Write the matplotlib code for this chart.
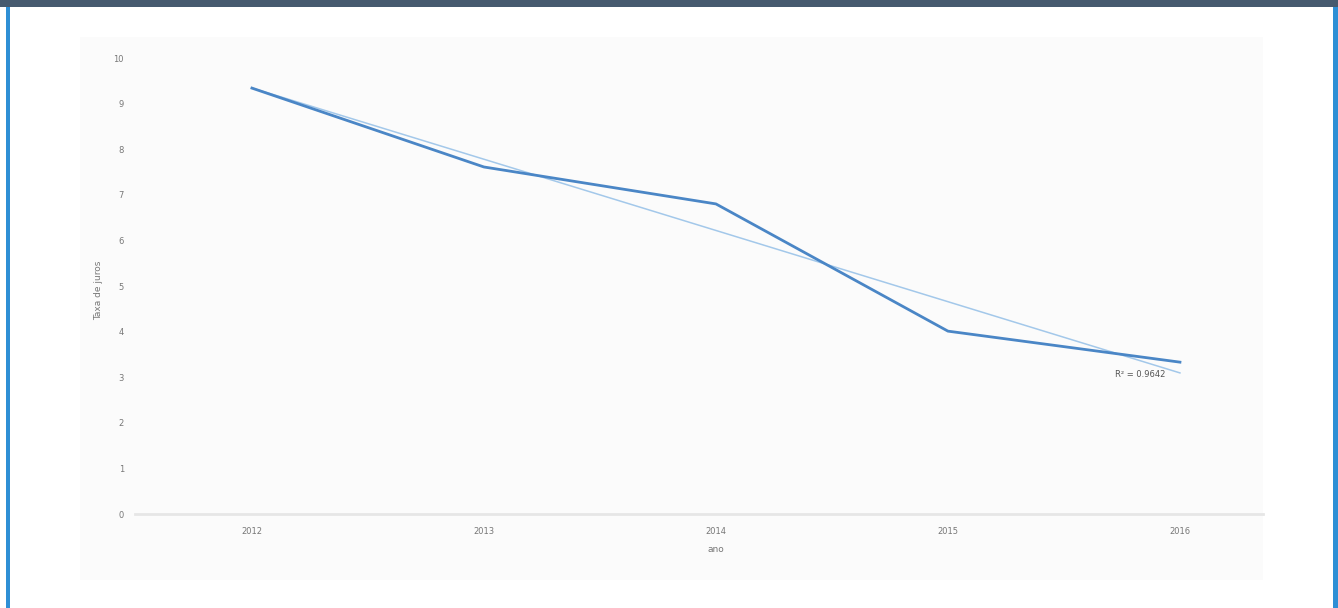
import matplotlib.pyplot as plt
import numpy as np
from matplotlib.patches import Rectangle

# data
anos = ['2012', '2013', '2014', '2015', '2016']
taxa = [9.34, 7.61, 6.80, 4.01, 3.33]
r2_label = 'R² = 0.9642'
y_ticks = list(range(0, 11))

fig = plt.figure(figsize=(13.38, 6.08), dpi=100)
fig.patch.set_facecolor('white')

# frame: dark band on top, blue borders on the sides (drawn behind the axes)
fig.patches.append(Rectangle((0, 1 - 7 / 608), 1, 7 / 608, transform=fig.transFigure,
                             facecolor='#465a6f', edgecolor='none', zorder=-2))
fig.patches.append(Rectangle((6 / 1338, 0), 4 / 1338, 1 - 7 / 608, transform=fig.transFigure,
                             facecolor='#2e8fd5', edgecolor='none', zorder=-2))
fig.patches.append(Rectangle((1333 / 1338, 0), 5 / 1338, 1 - 7 / 608, transform=fig.transFigure,
                             facecolor='#2e8fd5', edgecolor='none', zorder=-2))
# light chart area panel
fig.patches.append(Rectangle((80 / 1338, 28 / 608), 1183 / 1338, 543 / 608, transform=fig.transFigure,
                             facecolor='#fbfbfb', edgecolor='none', zorder=-2))

ax = fig.add_axes([135 / 1338, 94 / 608, 1128 / 1338, 456 / 608])
ax.set_facecolor('none')

x = np.arange(len(anos))
ax.plot(x, taxa, color='#4a86c6', linewidth=2, zorder=3)

# linear trend line
coef = np.polyfit(x, taxa, 1)
ax.plot(x, np.polyval(coef, x), color='#a3c8ea', linewidth=1.1, zorder=2)
ax.text(3.83, 3.07, r2_label, fontsize=6, color='#555555', ha='center', va='center')

ax.set_xlim(-0.504, 4.358)
ax.set_ylim(0, 10)
ax.set_xticks(x)
ax.set_xticklabels(anos)
ax.set_yticks(y_ticks)

for side in ['top', 'right', 'left']:
    ax.spines[side].set_visible(False)
ax.spines['bottom'].set_color('#e6e6e6')
ax.spines['bottom'].set_linewidth(2)
ax.tick_params(length=0, labelsize=6, colors='#777777')
ax.tick_params(axis='y', pad=8)
ax.tick_params(axis='x', pad=9)

ax.set_xlabel('ano', fontsize=6.5, color='#777777')
ax.set_ylabel('Taxa de juros', fontsize=6.5, color='#777777')
ax.xaxis.set_label_coords(0.515, -0.068)
ax.yaxis.set_label_coords(-0.028, 0.49)

plt.savefig('out.png', dpi=100)
